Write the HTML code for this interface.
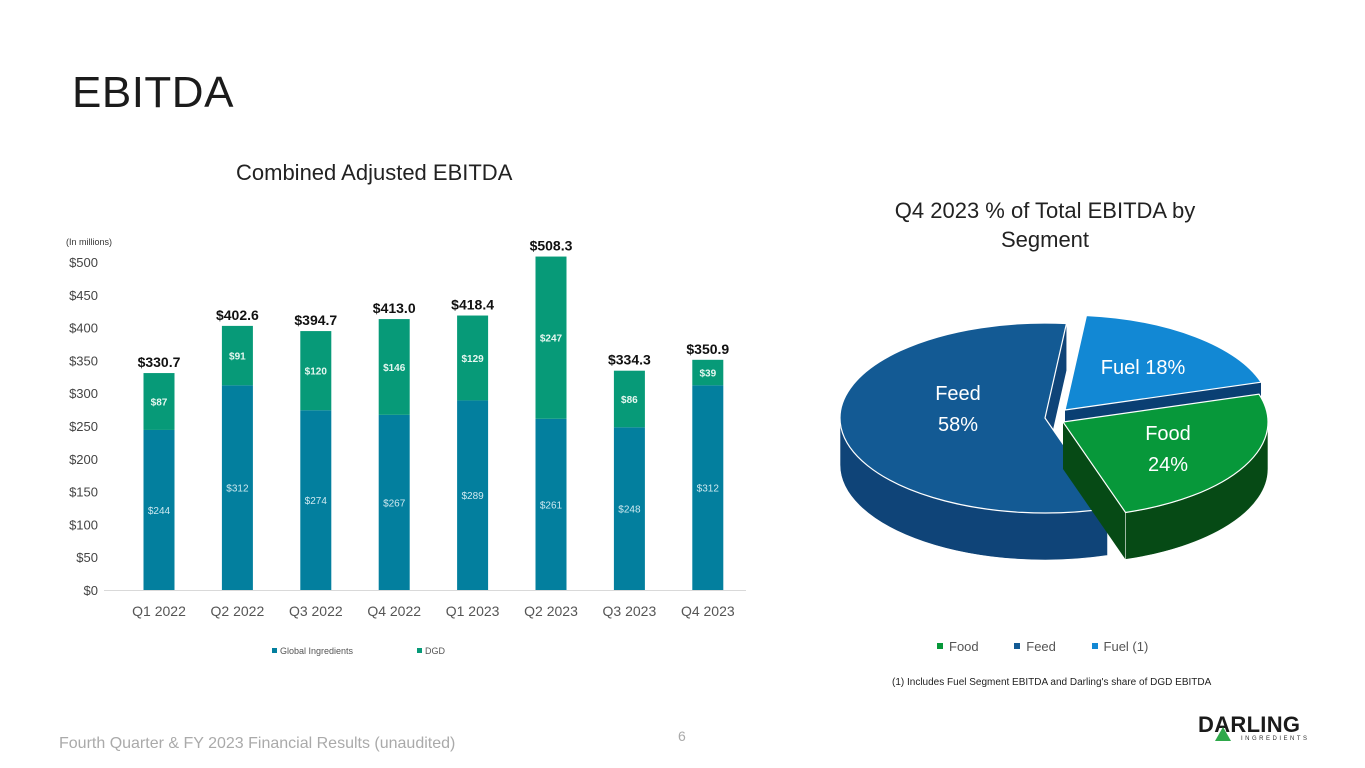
<!DOCTYPE html>
<html><head><meta charset="utf-8">
<style>
body{margin:0;width:1365px;height:768px;background:#fff;font-family:"Liberation Sans",sans-serif;overflow:hidden;position:relative}
.abs{position:absolute;white-space:nowrap}
</style></head><body>
<div class="abs" style="left:72px;top:68px;font-size:44px;color:#1b1b1b;letter-spacing:0.5px">EBITDA</div>
<div class="abs" style="left:236px;top:160px;font-size:22px;color:#222">Combined Adjusted EBITDA</div>
<div class="abs" style="left:845px;top:196px;width:400px;text-align:center;font-size:22px;color:#222;line-height:29px">Q4 2023 % of Total EBITDA by<br>Segment</div>
<div class="abs" style="left:66px;top:237px;font-size:9px;color:#333">(In millions)</div>
<svg id="bar" class="abs" style="left:0;top:0" width="780" height="680"></svg>
<svg id="pie" class="abs" style="left:780px;top:250px" width="560" height="340"></svg>
<div class="abs" style="left:937px;top:639px;font-size:13px;color:#555">
<span><span style="display:inline-block;width:6px;height:6px;background:#07983a;margin-right:6px;vertical-align:2px"></span>Food</span>
<span style="margin-left:32px"><span style="display:inline-block;width:6px;height:6px;background:#135a94;margin-right:6px;vertical-align:2px"></span>Feed</span>
<span style="margin-left:32px"><span style="display:inline-block;width:6px;height:6px;background:#1288d4;margin-right:6px;vertical-align:2px"></span>Fuel (1)</span>
</div>
<div class="abs" style="left:892px;top:677px;font-size:10px;color:#222">(1) Includes Fuel Segment EBITDA and Darling's share of DGD EBITDA</div>
<div class="abs" style="left:59px;top:735px;font-size:16px;color:#aaa">Fourth Quarter &amp; FY 2023 Financial Results (unaudited)</div>
<div class="abs" style="left:678px;top:728px;font-size:14px;color:#aaa">6</div>
<div class="abs" style="left:1198px;top:712px;width:112px;height:34px">
<div style="position:absolute;left:0;top:0;font-size:22px;font-weight:bold;color:#1b1b1b;letter-spacing:0.3px">DARLING</div>
<div style="position:absolute;left:43px;top:24px;font-size:6px;color:#333;letter-spacing:2.5px">INGREDIENTS</div>
<div style="position:absolute;left:17px;top:15px;width:0;height:0;border-left:8px solid transparent;border-right:8px solid transparent;border-bottom:14px solid #2ea84a"></div>
</div>
<script>
const categories=["Q1 2022","Q2 2022","Q3 2022","Q4 2022","Q1 2023","Q2 2023","Q3 2023","Q4 2023"];
const globalIngredients=[244,312,274,267,289,261,248,312];
const dgd=[87,91,120,146,129,247,86,39];
const totals=[330.7,402.6,394.7,413.0,418.4,508.3,334.3,350.9];
const yTicks=[0,50,100,150,200,250,300,350,400,450,500];
const segNames=["Fuel","Food","Feed"];
const segPct=[18,24,58];
const NS="http://www.w3.org/2000/svg";
function mk(p,tag,attrs,txt){const e=document.createElementNS(NS,tag);for(const k in attrs)e.setAttribute(k,attrs[k]);if(txt!=null)e.textContent=txt;p.appendChild(e);return e;}
const bar=document.getElementById('bar');
const y=v=>590-v*(328/500);
const x=i=>159+i*78.4;
yTicks.forEach(t=>{const e=mk(bar,'text',{x:98,y:y(t)+5,'text-anchor':'end','font-size':13,fill:'#444'},'$'+t);

});
const ax=mk(bar,'line',{x1:104,x2:746,y1:590.5,y2:590.5,stroke:'#d9d9d9'});


categories.forEach((c,i)=>{
 const cx=x(i),w=31,g=globalIngredients[i],d=dgd[i];
 const r1=mk(bar,'rect',{x:cx-w/2,y:y(g),width:w,height:y(0)-y(g),fill:'#037f9e'});
 
 
 const r2=mk(bar,'rect',{x:cx-w/2,y:y(totals[i]),width:w,height:y(g)-y(totals[i]),fill:'#079a78'});
 
 
 const l1=mk(bar,'text',{x:cx,y:y(g/2)+4,'text-anchor':'middle','font-size':10,fill:'#cfe9f0'},'$'+g);
 
 
 const l2=mk(bar,'text',{x:cx,y:y(g+(totals[i]-g)/2)+4,'text-anchor':'middle','font-size':10,'font-weight':'bold',fill:'#e6f7f0'},'$'+d);
 
 
 const l3=mk(bar,'text',{x:cx,y:y(totals[i])-6,'text-anchor':'middle','font-size':14,'font-weight':'bold',fill:'#111'},'$'+totals[i].toFixed(1));
 
 
 const l4=mk(bar,'text',{x:cx,y:616,'text-anchor':'middle','font-size':14,fill:'#555'},c);
 
 
});
[[272,'#037f9e','Global Ingredients'],[417,'#079a78','DGD']].forEach(([lx,col,t])=>{
 const gr=mk(bar,'g',{});
 
 
 mk(gr,'rect',{x:lx,y:648,width:5,height:5,fill:col});
 mk(gr,'text',{x:lx+8,y:654,'font-size':9,fill:'#555'},t);
});

// pie
const pie=document.getElementById('pie');
const P={cx:275,cy:168,rx:205,ry:95,d:47};
const startT=-84;
const offs={Fuel:[10,-8],Food:[8,4],Feed:[-10,0]};
const tops={Fuel:'#1288d4',Food:'#07983a',Feed:'#135a94'};
const sides={Fuel:'#0a3f73',Food:'#064a15',Feed:'#0f4478'};
const angleAt=p=>startT+p*3.72;
let cum=0;const segs=[];
segPct.forEach((p,i)=>{const a=angleAt(cum);cum+=p;let b=angleAt(cum);if(i==segPct.length-1)b=startT+360;segs.push({n:segNames[i],a,b});});
const rad=t=>t*Math.PI/180;
function pt(t,o){return [P.cx+o[0]+P.rx*Math.cos(rad(t)),P.cy+o[1]+P.ry*Math.sin(rad(t))];}
const order=["Feed","Fuel","Food"];
order.forEach(n=>{
 const s=segs.find(q=>q.n==n),o=offs[n];
 const g=mk(pie,'g',{});
 
 
 const c=[P.cx+o[0],P.cy+o[1]];
 [s.a,s.b].forEach(t=>{const p1=pt(t,o);mk(g,'path',{d:`M${c[0]},${c[1]} L${p1[0]},${p1[1]} L${p1[0]},${p1[1]+P.d} L${c[0]},${c[1]+P.d}Z`,fill:sides[n]});});
 for(let k=-1;k<=1;k++){const lo=Math.max(s.a,0+360*k),hi=Math.min(s.b,180+360*k);
  if(hi>lo){const p1=pt(lo,o),p2=pt(hi,o);
   mk(g,'path',{d:`M${p1[0]},${p1[1]} A${P.rx},${P.ry} 0 0 1 ${p2[0]},${p2[1]} L${p2[0]},${p2[1]+P.d} A${P.rx},${P.ry} 0 0 0 ${p1[0]},${p1[1]+P.d}Z`,fill:sides[n],stroke:'#fff','stroke-width':0.6});}}
 const p1=pt(s.a,o),p2=pt(s.b,o),large=(s.b-s.a)>180?1:0;
 mk(g,'path',{d:`M${c[0]},${c[1]} L${p1[0]},${p1[1]} A${P.rx},${P.ry} 0 ${large} 1 ${p2[0]},${p2[1]}Z`,fill:tops[n],stroke:'#fff','stroke-width':1.2});
});
const labelPos={Fuel:[363,124],Food:[388,190],Feed:[178,150]};
segs.forEach((s,i)=>{const lp=labelPos[s.n];
 const lines=s.n=="Fuel"?[s.n+' '+segPct[i]+'%']:[s.n,segPct[i]+'%'];
 lines.forEach((t,j)=>{const e=mk(pie,'text',{x:lp[0],y:lp[1]+j*31,'text-anchor':'middle','font-size':20,fill:'#fff'},t);
 
 });
});
</script>
</body></html>
